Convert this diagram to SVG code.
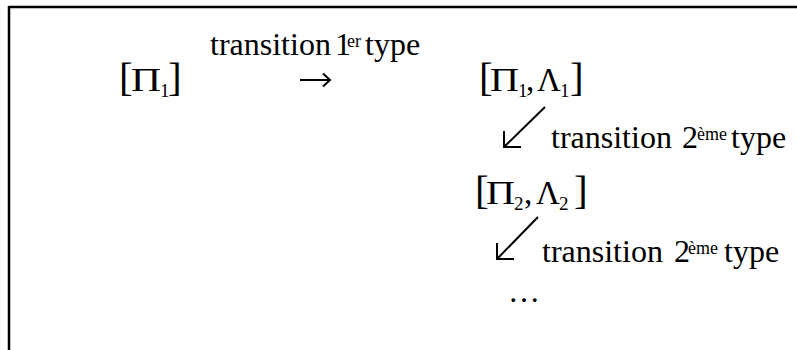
<svg xmlns="http://www.w3.org/2000/svg" width="797" height="350" viewBox="0 0 797 350">
<style>
text{font-family:"Liberation Serif","Times New Roman",serif;fill:#000}
.br{font-size:41px}
.m{font-size:33px}
.sb{font-size:19px}
.t{font-size:32px}
.sp{font-size:18px}
.ar{fill:none;stroke:#000;stroke-width:2;stroke-linecap:butt}
</style>
<rect width="797" height="350" fill="#fff"/>
<g id="frame">
<path d="M9 7H797M9 6V350" fill="none" stroke="#000" stroke-width="2.5"/>
</g>
<g id="node-p1">
<text class="br" x="119" y="91">[</text>
<text class="m" x="131" y="91" textLength="30" lengthAdjust="spacingAndGlyphs">Π</text>
<text class="sb" x="160" y="97">1</text>
<text class="br" x="168" y="91">]</text>
</g>
<g id="node-p1l1">
<text class="br" x="479" y="91">[</text>
<text class="m" x="490" y="91" textLength="29" lengthAdjust="spacingAndGlyphs">Π</text>
<text class="sb" x="518" y="97">1</text>
<text class="m" x="526" y="91">,</text>
<text class="m" x="537" y="91">Λ</text>
<text class="sb" x="560" y="97">1</text>
<text class="br" x="570" y="91">]</text>
</g>
<g id="node-p2l2">
<text class="br" x="475" y="204">[</text>
<text class="m" x="486" y="204" textLength="29" lengthAdjust="spacingAndGlyphs">Π</text>
<text class="sb" x="514" y="210">2</text>
<text class="m" x="524" y="204">,</text>
<text class="m" x="536" y="204">Λ</text>
<text class="sb" x="559" y="210">2</text>
<text class="br" x="574" y="204">]</text>
</g>
<g id="node-dots">
<text class="t" x="508" y="302">…</text>
</g>
<g id="connectors">
<path class="ar" d="M300 80H330M323 73.5L330 80L323 86.5" stroke-width="1.6"/>
<path class="ar" d="M545 107L504 147M504 131V147H521"/>
<path class="ar" d="M538 217L497 259M497 243V259H514"/>
<text class="t" x="210" y="55">transition <tspan x="335">1</tspan><tspan class="sp" x="347" y="47">er</tspan><tspan x="365" y="55">type</tspan></text>
<text class="t" x="551" y="148">transition <tspan x="682">2</tspan><tspan class="sp" x="697" y="140">ème</tspan><tspan x="731" y="148">type</tspan></text>
<text class="t" x="542" y="262">transition <tspan x="674">2</tspan><tspan class="sp" x="688" y="254">ème</tspan><tspan x="724" y="262">type</tspan></text>
</g>
</svg>
